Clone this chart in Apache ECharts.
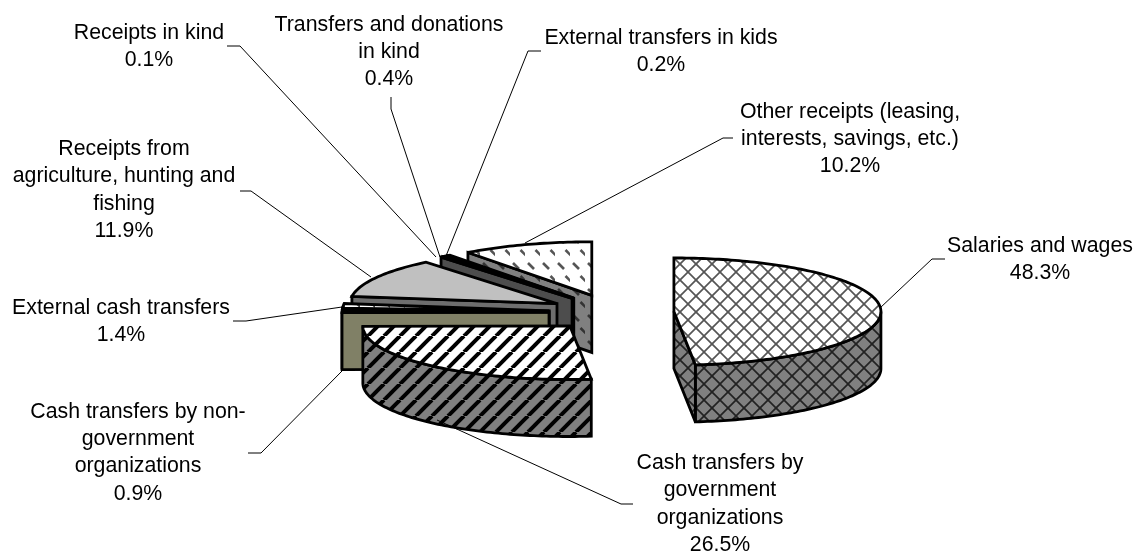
<!DOCTYPE html>
<html lang="en">
<head>
    <meta charset="UTF-8">
    <title>Income sources pie</title>
    <script src="https://cdn.jsdelivr.net/npm/echarts@6/dist/echarts.min.js"></script>
    <style>
        html, body { width: 100%; height: 100%; margin: 0; padding: 0; background: #fff; }
        #main { width: 1136px; height: 554px; }
    </style>
</head>
<body>
    <div id="main"></div>
    <script>
        // 数据
        var categories = [
            'Salaries and wages',
            'Cash transfers by\ngovernment\norganizations',
            'Cash transfers by non-\ngovernment\norganizations',
            'External cash transfers',
            'Receipts from\nagriculture, hunting and\nfishing',
            'Receipts in kind',
            'Transfers and donations\nin kind',
            'External transfers in kids',
            'Other receipts (leasing,\ninterests, savings, etc.)'
        ];
        var values = [48.3, 26.5, 0.9, 1.4, 11.9, 0.1, 0.4, 0.2, 10.2];

        // pie geometry
        var origin = [611.5, 312.5], radius = [207, 53.6], explode = [62.5, 18], depth = 57;

        // label centre x, first line top y
        var labelPos = [
            [1040, 232.5], [720, 449.5], [138, 398], [121, 294], [124, 135.5],
            [149, 19], [389, 11], [661, 24], [850, 98]
        ];
        // leader lines, label end first
        var leaders = [
            [[945, 259], [932, 259], [880, 308]],
            [[633, 504], [621, 504], [437, 420]],
            [[248, 453], [261, 453], [342, 371]],
            [[233, 321], [246, 321], [342, 307]],
            [[240, 191], [251, 191], [371, 277]],
            [[227, 46], [240, 46], [436, 257]],
            [[391, 97], [391, 109], [440, 257]],
            [[541, 51], [528, 51], [446, 256]],
            [[733, 138], [723, 138], [525, 243]]
        ];

        function tile(w, h, bg, draw) {
            var c = document.createElement('canvas');
            c.width = w; c.height = h;
            var g = c.getContext('2d');
            g.fillStyle = bg;
            g.fillRect(0, 0, w, h);
            draw(g);
            return { image: c, repeat: 'repeat' };
        }
        function stripes(bg, color, width) {
            return tile(16, 16, bg, function (g) {
                g.strokeStyle = color; g.lineWidth = width;
                for (var k = -1; k <= 1; k++) {
                    g.beginPath(); g.moveTo(k * 16, 16); g.lineTo(k * 16 + 16, 0); g.stroke();
                }
            });
        }
        function hatch(bg, color, width) {
            return tile(16, 16, bg, function (g) {
                g.strokeStyle = color; g.lineWidth = width;
                for (var k = -1; k <= 1; k++) {
                    g.beginPath(); g.moveTo(k * 16, 16); g.lineTo(k * 16 + 16, 0); g.stroke();
                    g.beginPath(); g.moveTo(k * 16, 0); g.lineTo(k * 16 + 16, 16); g.stroke();
                }
            });
        }
        function dashes(bg, color) {
            return tile(15, 26, bg, function (g) {
                g.strokeStyle = color; g.lineWidth = 2.6;
                [[3, 3], [10.5, 16]].forEach(function (p) {
                    g.beginPath(); g.moveTo(p[0], p[1]); g.lineTo(p[0] + 6, p[1] + 6); g.stroke();
                });
            });
        }

        // top face, wall
        var sliceFills = [
            [hatch('#fff', '#555', 1.7), hatch('#808080', '#222', 1.7)],
            [stripes('#fff', '#000', 4), stripes('#808080', '#000', 4)],
            ['#808066', '#808066'],
            [dashes('#fff', '#444'), '#000'],
            ['#c0c0c0', '#6e6e6e'],
            ['#000', '#4d4d4d'],
            ['#808080', '#4d4d4d'],
            ['#000', '#000'],
            [dashes('#fff', '#555'), dashes('#808080', '#333')]
        ];

        var total = values.reduce(function (a, b) { return a + b; }, 0);
        function cumBefore(i) {
            var s = 0;
            for (var k = 0; k < i; k++) s += values[k];
            return s;
        }
        function toAngle(v) {
            return echarts.number.linearMap(v, [0, total], [0, Math.PI * 2]);
        }

        function renderSlice(params, api) {
            var i = params.dataIndex;
            var v = api.value(0);
            var a0 = toAngle(cumBefore(i)), a1 = toAngle(cumBefore(i) + v);
            var mid = (a0 + a1) / 2;
            var cx = origin[0] + explode[0] * Math.sin(mid);
            var cy = origin[1] - explode[1] * Math.cos(mid);
            function pt(a, dy) {
                return [cx + radius[0] * Math.sin(a), cy - radius[1] * Math.cos(a) + (dy || 0)];
            }
            function arc(from, to, dy) {
                var pts = [], n = Math.max(2, Math.ceil((to - from) / 0.02));
                for (var k = 0; k <= n; k++) pts.push(pt(from + (to - from) * k / n, dy));
                return pts;
            }
            // back slices first, salaries does not overlap anything
            var z = (i === 0 ? 0 : values.length - i) * 10;
            var fills = sliceFills[i];
            var lineStyle = { stroke: '#000', lineWidth: 2.8, lineJoin: 'miter', miterLimit: 3 };
            function poly(points, fill, zz) {
                return {
                    type: 'polygon', z2: z + zz, silent: true,
                    shape: { points: points },
                    style: Object.assign({ fill: fill }, lineStyle)
                };
            }
            var children = [];
            // outer wall, only front half of the rim
            var w0 = Math.max(a0, Math.PI / 2), w1 = Math.min(a1, Math.PI * 1.5);
            if (w1 > w0) {
                children.push(poly(arc(w0, w1, 0).concat(arc(w0, w1, depth).reverse()), fills[1], 1));
            }
            // cut walls
            if (Math.sin(a0) < 0) {
                children.push(poly([[cx, cy], pt(a0), pt(a0, depth), [cx, cy + depth]], fills[1], 2));
            }
            if (Math.sin(a1) > 0) {
                children.push(poly([[cx, cy], pt(a1), pt(a1, depth), [cx, cy + depth]], fills[1], 2));
            }
            children.push(poly([[cx, cy]].concat(arc(a0, a1, 0)), fills[0], 3));
            // leader + label
            children.push({
                type: 'polyline', z2: 200, silent: true,
                shape: { points: leaders[i] },
                style: { fill: null, stroke: '#000', lineWidth: 1 }
            });
            children.push({
                type: 'text', z2: 201, silent: true,
                style: {
                    x: labelPos[i][0], y: labelPos[i][1],
                    text: categories[i] + '\n' + v.toFixed(1) + '%',
                    align: 'center', verticalAlign: 'top',
                    font: '21.3px "Liberation Sans", Arial, sans-serif',
                    lineHeight: 27.4, fill: '#000'
                }
            });
            return { type: 'group', children: children };
        }

        var myChart = echarts.init(document.getElementById('main'));
        myChart.setOption({
            backgroundColor: '#fff',
            animation: false,
            series: [{
                type: 'custom',
                coordinateSystem: 'none',
                renderItem: renderSlice,
                data: values.map(function (v) { return [v]; })
            }]
        });
    </script>
</body>
</html>
